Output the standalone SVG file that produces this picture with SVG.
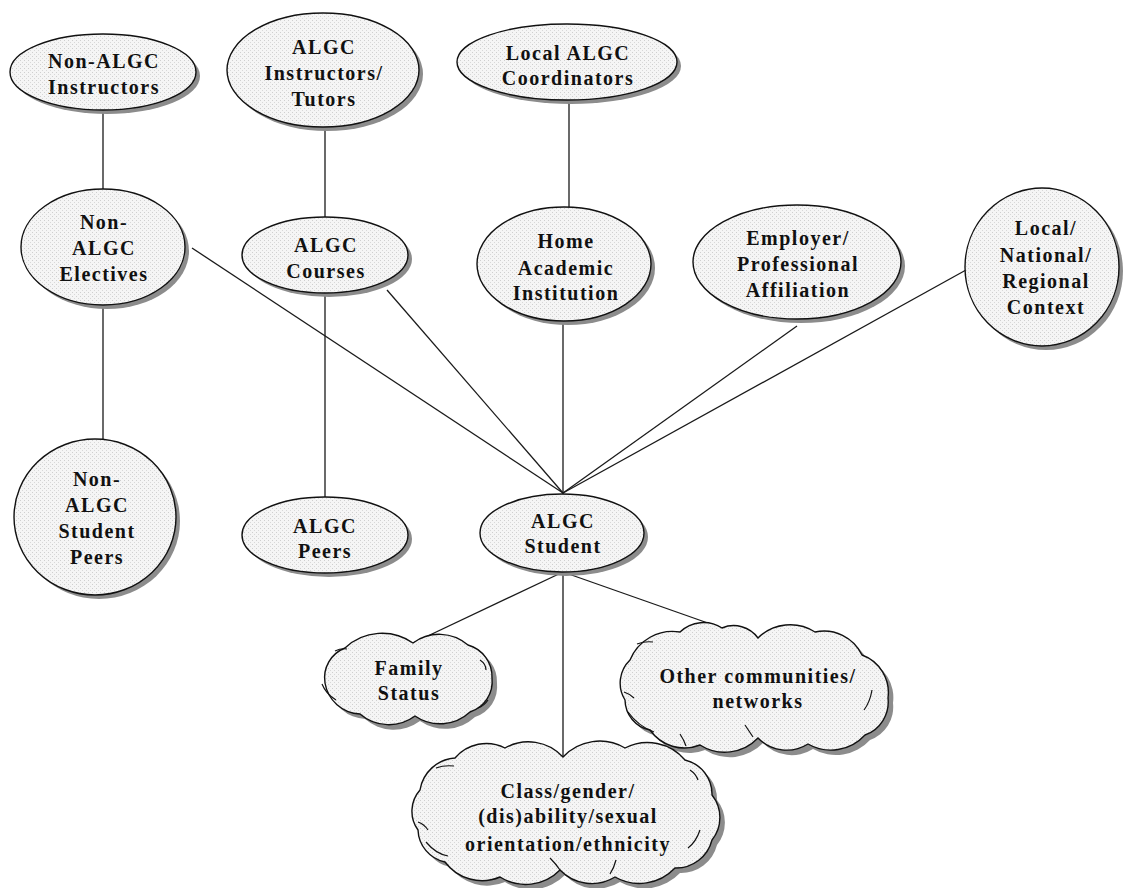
<svg xmlns="http://www.w3.org/2000/svg" width="1123" height="888" viewBox="0 0 1123 888">
<defs>
<pattern id="stipple" width="4" height="4" patternUnits="userSpaceOnUse">
<rect width="4" height="4" fill="#f5f5f5"/>
<rect x="0" y="0" width="1" height="1" fill="#cfcfcf"/>
<rect x="2" y="2" width="1" height="1" fill="#d8d8d8"/>
</pattern>
</defs>
<style>
.sh{fill:#8c8c8c;stroke:none}
.nd{fill:url(#stipple);stroke:#111;stroke-width:1.4}
.cr{fill:none;stroke:#111;stroke-width:1.2}
.ln{stroke:#1a1a1a;stroke-width:1.3;fill:none}
.t{font-family:"Liberation Serif","Times New Roman",serif;font-weight:bold;font-size:20px;letter-spacing:1.5px;text-anchor:middle;fill:#111}
</style>
<rect width="1123" height="888" fill="#ffffff"/>

<g id="connectors">
<line class="ln" x1="103" y1="110" x2="103" y2="189"/>
<line class="ln" x1="325" y1="127" x2="325" y2="218"/>
<line class="ln" x1="569" y1="100" x2="569" y2="207"/>
<line class="ln" x1="103" y1="305" x2="103" y2="439"/>
<line class="ln" x1="325" y1="293" x2="325" y2="497"/>
<line class="ln" x1="192" y1="248" x2="563" y2="493"/>
<line class="ln" x1="387" y1="290" x2="563" y2="493"/>
<line class="ln" x1="563" y1="322" x2="563" y2="494"/>
<line class="ln" x1="797" y1="326" x2="563" y2="493"/>
<line class="ln" x1="966" y1="270" x2="563" y2="493"/>
<line class="ln" x1="563" y1="572" x2="413" y2="643"/>
<line class="ln" x1="563" y1="572" x2="722" y2="628"/>
<line class="ln" x1="563" y1="572" x2="563" y2="757"/>
</g>

<g id="non-algc-instructors">
<ellipse class="sh" cx="107" cy="76" rx="93" ry="38"/>
<ellipse class="nd" cx="103" cy="72" rx="93" ry="38"/>
<text class="t" x="104" y="68">Non-ALGC</text>
<text class="t" x="104" y="94">Instructors</text>
</g>

<g id="algc-instructors-tutors">
<ellipse class="sh" cx="327" cy="74" rx="96" ry="57"/>
<ellipse class="nd" cx="323" cy="70" rx="96" ry="57"/>
<text class="t" x="324" y="54">ALGC</text>
<text class="t" x="324" y="80">Instructors/</text>
<text class="t" x="324" y="106">Tutors</text>
</g>

<g id="local-algc-coordinators">
<ellipse class="sh" cx="571" cy="66" rx="110" ry="38"/>
<ellipse class="nd" cx="567" cy="62" rx="110" ry="38"/>
<text class="t" x="568" y="60">Local ALGC</text>
<text class="t" x="568" y="85">Coordinators</text>
</g>

<g id="non-algc-electives">
<ellipse class="sh" cx="107" cy="251" rx="82" ry="58"/>
<ellipse class="nd" cx="103" cy="247" rx="82" ry="58"/>
<text class="t" x="104" y="229">Non-</text>
<text class="t" x="104" y="255">ALGC</text>
<text class="t" x="104" y="281">Electives</text>
</g>

<g id="algc-courses">
<ellipse class="sh" cx="329" cy="259" rx="83" ry="38"/>
<ellipse class="nd" cx="325" cy="255" rx="83" ry="38"/>
<text class="t" x="326" y="252">ALGC</text>
<text class="t" x="326" y="278">Courses</text>
</g>

<g id="home-academic-institution">
<ellipse class="sh" cx="568" cy="268" rx="87" ry="57"/>
<ellipse class="nd" cx="564" cy="264" rx="87" ry="57"/>
<text class="t" x="566" y="248">Home</text>
<text class="t" x="566" y="275">Academic</text>
<text class="t" x="566" y="300">Institution</text>
</g>

<g id="employer-professional-affiliation">
<ellipse class="sh" cx="801" cy="266" rx="104" ry="57"/>
<ellipse class="nd" cx="797" cy="262" rx="104" ry="57"/>
<text class="t" x="798" y="245">Employer/</text>
<text class="t" x="798" y="271">Professional</text>
<text class="t" x="798" y="297">Affiliation</text>
</g>

<g id="local-national-regional-context">
<ellipse class="sh" cx="1046" cy="271" rx="77" ry="79"/>
<ellipse class="nd" cx="1042" cy="267" rx="77" ry="79"/>
<text class="t" x="1046" y="235">Local/</text>
<text class="t" x="1046" y="262">National/</text>
<text class="t" x="1046" y="288">Regional</text>
<text class="t" x="1046" y="314">Context</text>
</g>

<g id="non-algc-student-peers">
<ellipse class="sh" cx="99" cy="521" rx="81" ry="78"/>
<ellipse class="nd" cx="95" cy="517" rx="81" ry="78"/>
<text class="t" x="97" y="486">Non-</text>
<text class="t" x="97" y="512">ALGC</text>
<text class="t" x="97" y="538">Student</text>
<text class="t" x="97" y="564">Peers</text>
</g>

<g id="algc-peers">
<ellipse class="sh" cx="329" cy="539" rx="83" ry="38"/>
<ellipse class="nd" cx="325" cy="535" rx="83" ry="38"/>
<text class="t" x="325" y="533">ALGC</text>
<text class="t" x="325" y="558">Peers</text>
</g>

<g id="algc-student">
<ellipse class="sh" cx="566" cy="537" rx="82" ry="39"/>
<ellipse class="nd" cx="562" cy="533" rx="82" ry="39"/>
<text class="t" x="563" y="528">ALGC</text>
<text class="t" x="563" y="553">Student</text>
</g>

<g id="family-status">
<path class="sh" transform="translate(5,5)" d="M413 643 A44 44 0 0 1 468 645 A33 33 0 0 1 492 678 A32 32 0 0 1 470 712 A44 44 0 0 1 415 716 A44 44 0 0 1 360 714 A37 37 0 0 1 325 683 A32 32 0 0 1 345 648 A54 54 0 0 1 413 643 Z"/>
<path class="nd" d="M413 643 A44 44 0 0 1 468 645 A33 33 0 0 1 492 678 A32 32 0 0 1 470 712 A44 44 0 0 1 415 716 A44 44 0 0 1 360 714 A37 37 0 0 1 325 683 A32 32 0 0 1 345 648 A54 54 0 0 1 413 643 Z"/>
<path class="cr" d="M335 651 q6 -3 12 -2 M322 684 q4 10 14 16 M480 660 q6 4 6 10 M488 700 q-4 6 -10 8"/>
<text class="t" x="409" y="675">Family</text>
<text class="t" x="409" y="700">Status</text>
</g>

<g id="other-communities-networks">
<path class="sh" transform="translate(5,5)" d="M758 638 A46 46 0 0 1 815 632 A42 42 0 0 1 862 655 A40 40 0 0 1 888 698 A35 35 0 0 1 865 735 A46 46 0 0 1 808 744 A40 40 0 0 1 758 738 A46 46 0 0 1 700 745 A42 42 0 0 1 650 730 A31 31 0 0 1 625 700 A32 32 0 0 1 630 660 A46 46 0 0 1 680 632 A34 34 0 0 1 722 628 A30 30 0 0 1 758 638 Z"/>
<path class="nd" d="M758 638 A46 46 0 0 1 815 632 A42 42 0 0 1 862 655 A40 40 0 0 1 888 698 A35 35 0 0 1 865 735 A46 46 0 0 1 808 744 A40 40 0 0 1 758 738 A46 46 0 0 1 700 745 A42 42 0 0 1 650 730 A31 31 0 0 1 625 700 A32 32 0 0 1 630 660 A46 46 0 0 1 680 632 A34 34 0 0 1 722 628 A30 30 0 0 1 758 638 Z"/>
<path class="cr" d="M637 644 q8 -3 16 -2 M624 692 q6 2 10 6 M628 712 q10 14 26 20 M745 725 q4 6 8 12 M680 734 q4 6 6 12 M872 690 q-2 12 -8 20"/>
<text class="t" x="758" y="683">Other communities/</text>
<text class="t" x="758" y="708">networks</text>
</g>

<g id="class-gender-ability-orientation-ethnicity">
<path class="sh" transform="translate(5,5)" d="M563 757 A50 50 0 0 1 625 748 A49 49 0 0 1 685 760 A35 35 0 0 1 712 795 A36 36 0 0 1 712 840 A37 37 0 0 1 675 868 A49 49 0 0 1 615 877 A44 44 0 0 1 560 870 A48 48 0 0 1 500 877 A46 46 0 0 1 445 862 A34 34 0 0 1 418 830 A32 32 0 0 1 420 790 A38 38 0 0 1 455 758 A41 41 0 0 1 505 748 A47 47 0 0 1 563 757 Z"/>
<path class="nd" d="M563 757 A50 50 0 0 1 625 748 A49 49 0 0 1 685 760 A35 35 0 0 1 712 795 A36 36 0 0 1 712 840 A37 37 0 0 1 675 868 A49 49 0 0 1 615 877 A44 44 0 0 1 560 870 A48 48 0 0 1 500 877 A46 46 0 0 1 445 862 A34 34 0 0 1 418 830 A32 32 0 0 1 420 790 A38 38 0 0 1 455 758 A41 41 0 0 1 505 748 A47 47 0 0 1 563 757 Z"/>
<path class="cr" d="M436 768 q8 -3 18 -2 M418 822 q6 2 10 8 M426 842 q10 12 22 14 M550 858 q6 6 10 12 M616 860 q-2 8 -6 14 M700 830 q-4 12 -12 18 M690 770 q6 4 8 10"/>
<text class="t" x="568" y="798">Class/gender/</text>
<text class="t" x="568" y="823">(dis)ability/sexual</text>
<text class="t" x="568" y="851">orientation/ethnicity</text>
</g>
</svg>
